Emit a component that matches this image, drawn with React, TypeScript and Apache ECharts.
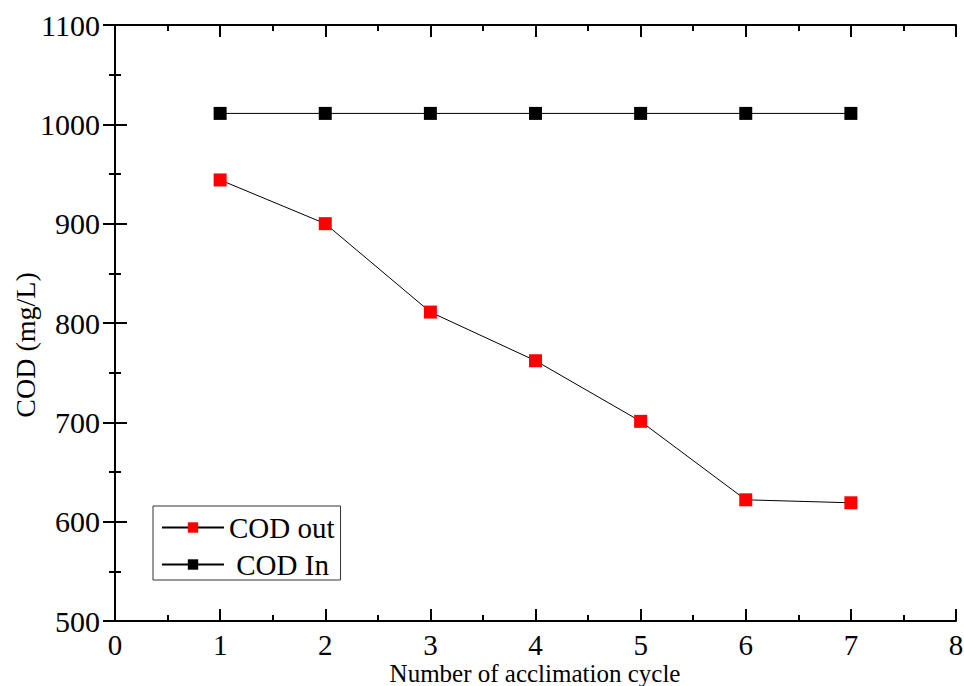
import React, { useEffect, useRef } from "react";
import * as echarts from "echarts";

const cycles = [1, 2, 3, 4, 5, 6, 7];
const codOut = [944, 900, 811, 762, 701, 622, 619];
const codIn = [1011, 1011, 1011, 1011, 1011, 1011, 1011];
const seriesNames = ["COD out", "COD In"];
const xTitle = "Number of acclimation cycle";
const yTitle = "COD (mg/L)";

const FONT = "'Liberation Serif', 'Times New Roman', serif";

export default function App() {
  const ref = useRef<HTMLDivElement>(null);
  useEffect(() => {
    if (!ref.current) return;
    const chart = echarts.init(ref.current, undefined, { renderer: "svg" });
    const axisLine = { show: true, lineStyle: { color: "#000", width: 2 } };
    const tick = { show: true, inside: true, length: 12, lineStyle: { color: "#000", width: 2 } };
    const minor = { show: true, splitNumber: 2, length: 6, lineStyle: { color: "#000", width: 2 } };
    chart.setOption({
      animation: false,
      backgroundColor: "#fff",
      grid: { left: 115, right: 8, top: 25, bottom: 65, outerBoundsMode: "none" },
      legend: {
        data: seriesNames,
        orient: "vertical",
        left: 153,
        top: 506,
        itemWidth: 62,
        itemHeight: 13,
        itemGap: 8,
        padding: [7, 6, 1, 8],
        borderColor: "#333",
        borderWidth: 1,
        formatter: (n: string) => (n === "COD In" ? " " + n : n),
        textStyle: { fontFamily: FONT, fontSize: 29, color: "#000" },
      },
      xAxis: [
        {
          type: "value",
          min: 0,
          max: 8,
          interval: 1,
          position: "bottom",
          axisLine,
          axisTick: tick,
          minorTick: minor,
          splitLine: { show: false },
          axisLabel: { fontFamily: FONT, fontSize: 29, color: "#000", margin: 9 },
        },
        {
          type: "value",
          min: 0,
          max: 8,
          interval: 1,
          position: "top",
          axisLine,
          axisTick: tick,
          minorTick: minor,
          splitLine: { show: false },
          axisLabel: { show: false },
        },
      ],
      yAxis: [
        {
          type: "value",
          min: 500,
          max: 1100,
          interval: 100,
          position: "left",
          axisLine,
          axisTick: tick,
          minorTick: minor,
          splitLine: { show: false },
          axisLabel: {
            fontFamily: FONT,
            fontSize: 30,
            color: "#000",
            margin: 15,
            formatter: (v: number) => String(v),
          },
        },
        {
          type: "value",
          min: 500,
          max: 1100,
          interval: 100,
          position: "right",
          axisLine,
          axisTick: tick,
          minorTick: minor,
          splitLine: { show: false },
          axisLabel: { show: false },
        },
      ],
      graphic: [
        {
          type: "text",
          x: 25,
          y: 345,
          rotation: Math.PI / 2,
          style: {
            text: yTitle,
            fontFamily: FONT,
            fontSize: 28,
            fill: "#000",
            align: "center",
            verticalAlign: "middle",
          },
        },
        {
          type: "text",
          x: 535,
          y: 673,
          style: {
            text: xTitle,
            fontFamily: FONT,
            fontSize: 25,
            fill: "#000",
            align: "center",
            verticalAlign: "middle",
          },
        },
      ],
      series: [
        {
          name: seriesNames[0],
          type: "line",
          data: cycles.map((c, i) => [c, codOut[i]]),
          symbol: "rect",
          symbolSize: 13,
          itemStyle: { color: "#ff0000" },
          lineStyle: { color: "#000", width: 1 },
        },
        {
          name: seriesNames[1],
          type: "line",
          data: cycles.map((c, i) => [c, codIn[i]]),
          symbol: "rect",
          symbolSize: 13,
          itemStyle: { color: "#000" },
          lineStyle: { color: "#000", width: 1 },
        },
      ],
    });
    return () => chart.dispose();
  }, []);
  return <div ref={ref} style={{ width: 964, height: 686, position: "absolute", left: 0, top: 0 }} />;
}
